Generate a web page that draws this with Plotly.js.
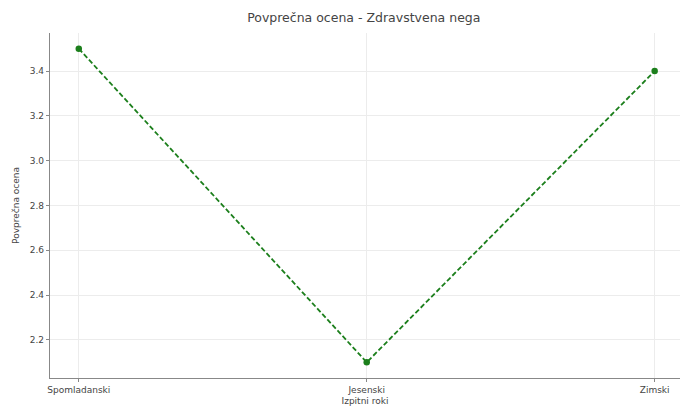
<!DOCTYPE html>
<html>
<head>
<meta charset="utf-8">
<script src="https://cdn.plot.ly/plotly-3.0.1.min.js"></script>
<style>html,body{margin:0;padding:0;background:#fff;}#chart{width:680px;height:410px;}</style>
</head>
<body>
<div id="chart"></div>
<script>
const categories = ["Spomladanski", "Jesenski", "Zimski"];
const values = [3.5, 2.1, 3.4];
const yTicks = [2.2, 2.4, 2.6, 2.8, 3.0, 3.2, 3.4];
const yTickLabels = ["2.2", "2.4", "2.6", "2.8", "3.0", "3.2", "3.4"];

const trace = {
  x: [0, 1, 2],
  y: values,
  type: 'scatter',
  mode: 'lines+markers',
  line: {color: '#1c7f1c', width: 1.8, dash: '5px,2.5px'},
  marker: {color: '#1c7f1c', size: 6.5, symbol: 'circle'},
  hoverinfo: 'skip'
};

const layout = {
  width: 680, height: 410,
  margin: {l: 50, r: 0, t: 33, b: 32},
  paper_bgcolor: '#fff', plot_bgcolor: '#fff',
  font: {family: 'DejaVu Sans, sans-serif', size: 9, color: '#444'},
  title: {text: 'Povprečna ocena - Zdravstvena nega', x: 0.535, xanchor: 'center', y: 0.958, yanchor: 'middle', font: {size: 12.5, color: '#444'}},
  showlegend: false,
  xaxis: {
    range: [-0.1, 2.088],
    tickmode: 'array', tickvals: [0, 1, 2], ticktext: categories,
    showgrid: true, gridcolor: '#ececec', gridwidth: 1,
    showline: true, linecolor: '#888', linewidth: 1.2,
    ticks: 'outside', ticklen: 3, tickcolor: '#888',
    zeroline: false,
    tickfont: {size: 9, color: '#444'},
    title: {text: 'Izpitni roki', font: {size: 9, color: '#444'}, standoff: 3}
  },
  yaxis: {
    range: [2.03, 3.57],
    tickmode: 'array', tickvals: yTicks, ticktext: yTickLabels,
    showgrid: true, gridcolor: '#ececec', gridwidth: 1,
    showline: true, linecolor: '#888', linewidth: 1.2,
    ticks: 'outside', ticklen: 3, tickcolor: '#888',
    zeroline: false,
    tickfont: {size: 9, color: '#444'},
    title: {text: 'Povprečna ocena', font: {size: 9, color: '#444'}, standoff: 8}
  }
};

Plotly.newPlot('chart', [trace], layout, {staticPlot: true, displayModeBar: false});
</script>
</body>
</html>
